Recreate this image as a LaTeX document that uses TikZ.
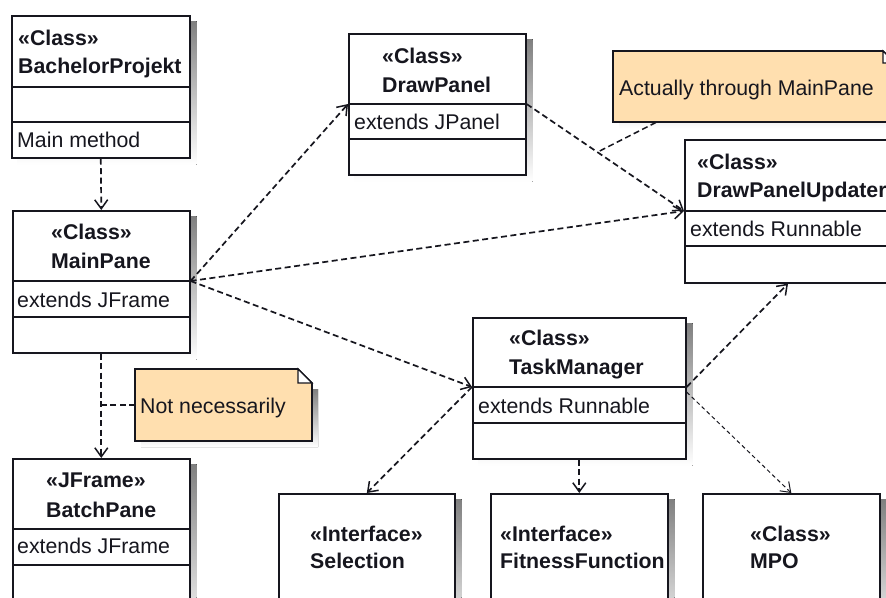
\documentclass[tikz,border=0pt]{standalone}
\usepackage{fontspec}
\setmainfont{Liberation Sans}
\usetikzlibrary{arrows.meta,calc}
\definecolor{notefill}{RGB}{255,223,175}
\definecolor{shade}{RGB}{200,200,200}
\definecolor{ink}{RGB}{22,22,30}
\pgfdeclarelayer{bg}
\pgfsetlayers{bg,main}

\tikzset{
  umlbox/.style={draw=ink, line width=1.6pt, fill=white, anchor=north west, inner sep=0pt},
  divider/.style={draw=ink, line width=1.6pt},
  txt/.style={anchor=base west, inner sep=0pt, font=\fontsize{21.3}{25}\selectfont, text=ink},
  headtxt/.style={txt, font=\fontsize{21.3}{25}\selectfont\bfseries},
  notebox/.style={fill=notefill, draw=ink, line width=1.6pt, line join=miter},
  dep/.style={draw=ink, line width=1.7pt, dash pattern=on 6pt off 3.5pt,
    -{Straight Barb[length=9pt,width=13pt,line width=1.5pt]}},
  lightdep/.style={draw=ink, line width=1.0pt, dash pattern=on 4pt off 3pt,
    -{Straight Barb[length=9pt,width=13pt,line width=1.0pt]}},
  link/.style={draw=ink, line width=1.5pt, dash pattern=on 6pt off 3.5pt},
}
% horizontal compartment line, #2 pt below the top of box #1
\newcommand\divline[2]{\draw[divider] ([yshift=-#2pt]#1.north west) -- ([yshift=-#2pt]#1.north east);}
% grey offset shadow behind node #1
\newcommand\shadowof[1]{\begin{pgfonlayer}{bg}\fill[shade] ([shift={(6pt,-6pt)}]#1.north west) rectangle ([shift={(6pt,-6pt)}]#1.south east);\end{pgfonlayer}}

\begin{document}
\begin{tikzpicture}[x=1pt,y=-1pt]
\useasboundingbox (0,0) rectangle (886,597);
\clip (0,0) rectangle (886,597);
\begin{pgfonlayer}{bg}
\fill[white] (0,0) rectangle (886,597);
\end{pgfonlayer}

% ---- class boxes ----
\node[umlbox, minimum width=178pt, minimum height=142pt] (bp)  at (11,15)  {};
\node[umlbox, minimum width=177pt, minimum height=141pt] (dp)  at (348,33) {};
\node[umlbox, minimum width=230pt, minimum height=143pt] (dpu) at (684,139) {};
\node[umlbox, minimum width=177pt, minimum height=142pt] (mp)  at (12,210) {};
\node[umlbox, minimum width=213pt, minimum height=141pt] (tm)  at (472,317) {};
\node[umlbox, minimum width=177pt, minimum height=180pt] (bat) at (12,458) {};
\node[umlbox, minimum width=176pt, minimum height=150pt] (sel) at (278,493) {};
\node[umlbox, minimum width=177pt, minimum height=150pt] (ff)  at (490,493) {};
\node[umlbox, minimum width=177pt, minimum height=150pt] (mpo) at (702,493) {};
\shadowof{bp} \shadowof{dp} \shadowof{dpu} \shadowof{mp} \shadowof{tm}
\shadowof{bat} \shadowof{sel} \shadowof{ff} \shadowof{mpo}

\divline{bp}{72}  \divline{bp}{107}
\divline{dp}{71}  \divline{dp}{106}
\divline{dpu}{72} \divline{dpu}{107}
\divline{mp}{71}  \divline{mp}{107}
\divline{tm}{70}  \divline{tm}{106}
\divline{bat}{71} \divline{bat}{107}

% ---- class texts ----
\node[headtxt] (bp-s)  at (18,45)  {«Class»};
\node[headtxt] (bp-n)  at (18,73)  {BachelorProjekt};
\node[txt]     (bp-o)  at (17,147) {Main method};

\node[headtxt] (dp-s)  at (382,63) {«Class»};
\node[headtxt] (dp-n)  at (382,92) {DrawPanel};
\node[txt]     (dp-a)  at (354,129) {extends JPanel};

\node[headtxt] (dpu-s) at (697,169) {«Class»};
\node[headtxt] (dpu-n) at (697,197) {DrawPanelUpdater};
\node[txt]     (dpu-a) at (690,236) {extends Runnable};

\node[headtxt] (mp-s)  at (51,239) {«Class»};
\node[headtxt] (mp-n)  at (51,268) {MainPane};
\node[txt]     (mp-a)  at (17,307) {extends JFrame};

\node[headtxt] (tm-s)  at (509,345) {«Class»};
\node[headtxt] (tm-n)  at (509,374) {TaskManager};
\node[txt]     (tm-a)  at (478,413) {extends Runnable};

\node[headtxt] (bat-s) at (46,487) {«JFrame»};
\node[headtxt] (bat-n) at (46,517) {BatchPane};
\node[txt]     (bat-a) at (17,553) {extends JFrame};

\node[headtxt] (sel-s) at (310,541) {«Interface»};
\node[headtxt] (sel-n) at (310,568) {Selection};

\node[headtxt] (ff-s)  at (500,541) {«Interface»};
\node[headtxt] (ff-n)  at (500,568) {FitnessFunction};

\node[headtxt] (mpo-s) at (750,541) {«Class»};
\node[headtxt] (mpo-n) at (750,568) {MPO};

% ---- notes (dog-eared) ----
\node[anchor=north west, inner sep=0pt, minimum width=282pt, minimum height=71pt] (n1) at (613,51) {};
\shadowof{n1}
\draw[notebox] (613,51) -- (883,51) -- (895,63) -- (895,122) -- (613,122) -- cycle;
\draw[fill=white, draw=ink, line width=1.2pt] (883,51) -- (883,63) -- (895,63) -- cycle;
\node[txt] (n1-t) at (619,95) {Actually through MainPane};

\node[anchor=north west, inner sep=0pt, minimum width=177pt, minimum height=72pt] (n2) at (135,369) {};
\begin{pgfonlayer}{bg}
\fill[shade] (318,389) -- (318,447) -- (141,447) -- (141,441) -- (312,441) -- (312,389) -- cycle;
\end{pgfonlayer}
\draw[notebox] (135,369) -- (298,369) -- (312,383) -- (312,441) -- (135,441) -- cycle;
\draw[fill=white, draw=ink, line width=1.2pt] (298,369) -- (298,383) -- (312,383) -- cycle;
\node[txt] (n2-t) at (140,413) {Not necessarily};

% ---- attachment points ----
\coordinate (mp-e)  at ([yshift=-71pt]mp.north east);
\coordinate (dp-w)  at ([yshift=-71pt]dp.north west);
\coordinate (dp-e)  at ([yshift=-71pt]dp.north east);
\coordinate (dpu-w) at ([yshift=-72pt]dpu.north west);
\coordinate (dpu-b) at ([xshift=104pt]dpu.south west);
\coordinate (tm-w)  at ([yshift=-70pt]tm.north west);
\coordinate (tm-e)  at ([yshift=-70pt]tm.north east);
\coordinate (tm-e2) at ([yshift=-75pt]tm.north east);
\coordinate (n1-p)  at ($(dp-e)!0.45!(dpu-w)$);
\coordinate (n1-a)  at ([xshift=43pt]n1.south west);
\coordinate (n2-p)  at (n2.west -| mp.south);

% ---- dependencies ----
\draw[dep] (bp.south) -- (mp.north);
\draw[dep] (mp-e) -- (dp-w);
\draw[dep] (mp-e) -- (dpu-w);
\draw[dep] (mp-e) -- (tm-w);
\draw[dep] (dp-e) -- (dpu-w);
\draw[dep] (mp.south) -- (bat.north);
\draw[dep] (tm-e) -- (dpu-b);
\draw[dep] (tm-w) -- (sel.north);
\draw[dep] (tm.south) -- (ff.north);
\draw[lightdep] (tm-e2) -- (mpo.north);

% ---- note anchors ----
\draw[link] (n1-a) -- (n1-p);
\draw[link] (n2.west) -- (n2-p);
\end{tikzpicture}
\end{document}
